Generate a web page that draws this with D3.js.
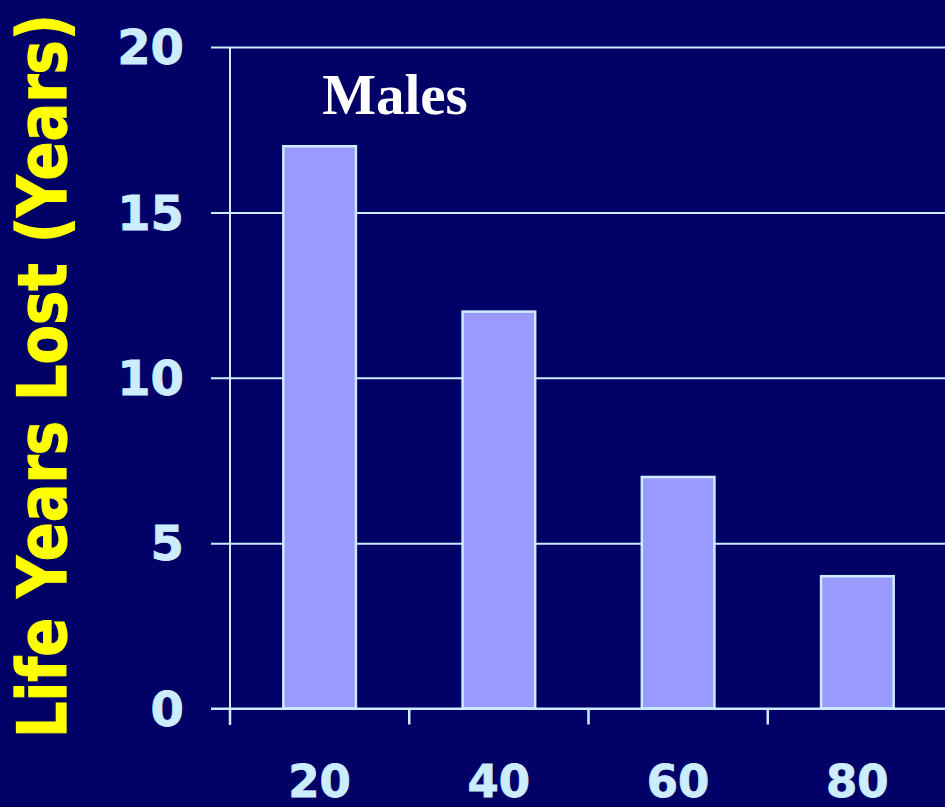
<!DOCTYPE html>
<html>
<head>
<meta charset="utf-8">
<script src="https://cdn.jsdelivr.net/npm/d3@7"></script>
<style>
  html, body { margin: 0; padding: 0; background: #000066; }
  svg { display: block; }
</style>
</head>
<body>
<svg id="chart" width="945" height="807"></svg>
<script>
// Age at onset (years) and life years lost for males
const ages = ["20", "40", "60", "80"];
const yearsLost = [17, 12, 7, 4];
const yTicks = [0, 5, 10, 15, 20];
const panelTitle = "Males";
const yTitle = "Life Years Lost (Years)";

const W = 945, H = 807;
const bg = "#000066", lineCol = "#ccecff", barCol = "#9999ff";

const svg = d3.select("#chart");
svg.append("rect").attr("width", W).attr("height", H).attr("fill", bg);

const x = d3.scaleBand().domain(ages).range([230, 947])
  .paddingInner(0.595).paddingOuter(0.2975);
const y = d3.scaleLinear().domain([0, 20]).range([708.5, 47]);

// horizontal gridlines with short ticks left of the axis
const grid = svg.append("g").attr("transform", "translate(230,0)")
  .call(d3.axisLeft(y).tickValues(yTicks).tickSizeOuter(0).tickFormat(""));
grid.select(".domain").remove();
grid.selectAll(".tick line")
  .attr("x1", -19).attr("x2", W - 230)
  .attr("stroke", lineCol).attr("stroke-width", 2);

// vertical axis line
svg.append("line")
  .attr("x1", 230).attr("x2", 230).attr("y1", y(20)).attr("y2", 725)
  .attr("stroke", lineCol).attr("stroke-width", 2);

// y tick labels
svg.append("g").selectAll("text").data(yTicks).join("text")
  .attr("x", 184).attr("y", d => y(d)).attr("dy", "0.36em")
  .attr("text-anchor", "end")
  .attr("font-family", "DejaVu Sans, Verdana, sans-serif")
  .attr("font-weight", "bold").attr("font-size", 48)
  .attr("fill", lineCol).attr("stroke", lineCol).attr("stroke-width", 0.8)
  .text(d => d);

// bars
svg.append("g").selectAll("rect").data(ages).join("rect")
  .attr("x", d => x(d)).attr("width", x.bandwidth())
  .attr("y", (d, i) => y(yearsLost[i]))
  .attr("height", (d, i) => y(0) - y(yearsLost[i]))
  .attr("fill", barCol).attr("stroke", lineCol).attr("stroke-width", 2.5);

// x axis with tick marks at category boundaries
const step = x.step();
const xAxis = svg.append("g").attr("transform", `translate(0,${y(0)})`);
xAxis.append("line").attr("x1", 211).attr("x2", W)
  .attr("stroke", lineCol).attr("stroke-width", 2);
xAxis.selectAll("line.tk").data(ages).join("line").attr("class", "tk")
  .attr("x1", d => x(d) - x.paddingInner() * step / 2)
  .attr("x2", d => x(d) - x.paddingInner() * step / 2)
  .attr("y1", 0).attr("y2", 16)
  .attr("stroke", lineCol).attr("stroke-width", 2.5);

// x category labels
svg.append("g").selectAll("text").data(ages).join("text")
  .attr("x", d => x(d) + x.bandwidth() / 2).attr("y", 797)
  .attr("text-anchor", "middle")
  .attr("font-family", "DejaVu Sans, Verdana, sans-serif")
  .attr("font-weight", "bold").attr("font-size", 45)
  .attr("fill", lineCol).attr("stroke", lineCol).attr("stroke-width", 0.8)
  .text(d => d);

// panel title
svg.append("text").attr("x", 395).attr("y", 114)
  .attr("text-anchor", "middle")
  .attr("font-family", "Liberation Serif, Times New Roman, serif")
  .attr("font-weight", "bold").attr("font-size", 57)
  .attr("fill", "#ffffff").text(panelTitle);

// y axis title
svg.append("text")
  .attr("transform", "translate(66,376) rotate(-90)")
  .attr("text-anchor", "middle")
  .attr("font-family", "DejaVu Sans, Verdana, sans-serif")
  .attr("font-weight", "bold").attr("font-size", 68)
  .attr("textLength", 724).attr("lengthAdjust", "spacingAndGlyphs")
  .attr("fill", "#ffff00").attr("stroke", "#ffff00").attr("stroke-width", 1.2)
  .text(yTitle);
</script>
</body>
</html>
